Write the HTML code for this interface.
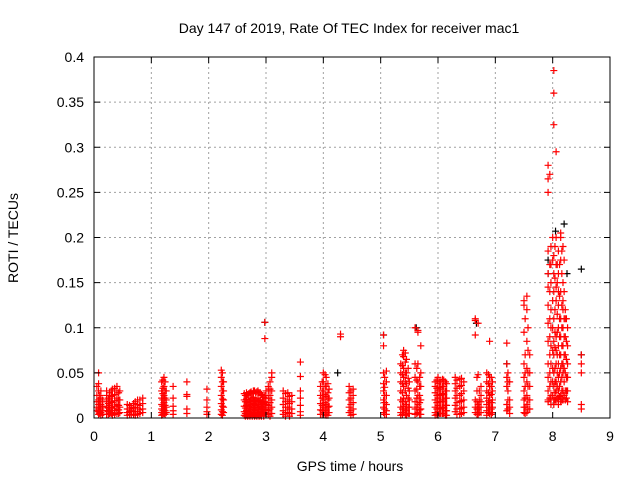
<!DOCTYPE html>
<html><head><meta charset="utf-8"><style>
body{margin:0;background:#fff;font-family:"Liberation Sans",sans-serif;}
svg text{font-family:"Liberation Sans",sans-serif;font-size:14px;fill:#000;}
</style></head><body>
<svg id="chart" width="640" height="480" xmlns="http://www.w3.org/2000/svg">
<text x="349" y="33" text-anchor="middle">Day 147 of 2019, Rate Of TEC Index for receiver mac1</text>
<text x="350" y="471" text-anchor="middle">GPS time / hours</text>
<text transform="translate(18,238) rotate(-90)" text-anchor="middle">ROTI / TECUs</text>
<g id="grid"></g><g id="pts"></g><g id="axes"></g>
</svg>
<script>
const xTicks=[0,1,2,3,4,5,6,7,8,9];
const yTicks=[0,0.05,0.1,0.15,0.2,0.25,0.3,0.35,0.4];
const yTickLabels=["0","0.05","0.1","0.15","0.2","0.25","0.3","0.35","0.4"];
// red series: column x (hours) and the y values (TECU) at that x
const redX=[0.08,0.12,0.22,0.27,0.32,0.4,0.45,0.58,0.65,0.72,0.8,0.85,1.18,1.22,1.26,1.38,1.62,1.97,2.22,2.26,2.62,2.66,2.7,2.74,2.78,2.82,2.86,2.9,2.94,2.98,3.04,3.1,3.3,3.38,3.45,3.6,3.95,4.0,4.05,4.1,4.3,4.45,4.52,5.05,5.1,5.35,5.4,5.45,5.5,5.6,5.65,5.7,5.95,6.0,6.05,6.1,6.15,6.3,6.38,6.45,6.65,6.7,6.75,6.85,6.9,6.95,7.2,7.25,7.5,7.55,7.6,7.92,7.97,8.02,8.06,8.1,8.14,8.18,8.22,8.26,8.5];
const redY=[
[0.05,0.038,0.03,0.02,0.015,0.01,0.007,0.004],
[0.03,0.022,0.015,0.01,0.006,0.003],
[0.03,0.025,0.018,0.012,0.008,0.004],
[0.028,0.02,0.014,0.009,0.005],
[0.032,0.025,0.017,0.011,0.006,0.003],
[0.035,0.03,0.022,0.015,0.01,0.005],
[0.03,0.02,0.012,0.006],
[0.015,0.01,0.006,0.003],
[0.012,0.008,0.004],
[0.018,0.012,0.007,0.003],
[0.02,0.014,0.009,0.005],
[0.022,0.016,0.01,0.006],
[0.04,0.03,0.022,0.015,0.01,0.006,0.003],
[0.045,0.035,0.025,0.017,0.01,0.005],
[0.03,0.02,0.012,0.006],
[0.035,0.022,0.013,0.008,0.004],
[0.04,0.026,0.024,0.01,0.005],
[0.032,0.02,0.012,0.007,0.004],
[0.053,0.045,0.035,0.025,0.016,0.009,0.004],
[0.04,0.03,0.02,0.012,0.006],
[0.027,0.02,0.013,0.007,0.003],
[0.028,0.021,0.014,0.008,0.003],
[0.027,0.02,0.013,0.007,0.003],
[0.029,0.022,0.015,0.009,0.004],
[0.03,0.023,0.016,0.009,0.004],
[0.028,0.02,0.014,0.008,0.003],
[0.03,0.022,0.015,0.009,0.004],
[0.028,0.02,0.013,0.007,0.003],
[0.025,0.018,0.012,0.006],
[0.106,0.088,0.025,0.018,0.012,0.006],
[0.035,0.03,0.022,0.014,0.008,0.004],
[0.05,0.045,0.03,0.02,0.012,0.005],
[0.03,0.022,0.015,0.008,0.004],
[0.028,0.02,0.012,0.006],
[0.025,0.018,0.01,0.005],
[0.062,0.046,0.03,0.022,0.014,0.007,0.003],
[0.035,0.025,0.016,0.009,0.004],
[0.05,0.04,0.03,0.02,0.012,0.006],
[0.045,0.035,0.024,0.015,0.008,0.003],
[0.032,0.022,0.013,0.006],
[0.093,0.09],
[0.035,0.028,0.02,0.012,0.006],
[0.032,0.025,0.017,0.01,0.004],
[0.092,0.08,0.05,0.038,0.03,0.02,0.012,0.006],
[0.052,0.04,0.025,0.015,0.008,0.004],
[0.06,0.05,0.04,0.03,0.02,0.012,0.006,0.003],
[0.075,0.068,0.055,0.045,0.035,0.022,0.013,0.006],
[0.065,0.05,0.038,0.025,0.015,0.008,0.003],
[0.04,0.03,0.02,0.012,0.005],
[0.1,0.06,0.045,0.03,0.018,0.01,0.004],
[0.097,0.095,0.06,0.04,0.025,0.015,0.006],
[0.08,0.05,0.035,0.02,0.01,0.004],
[0.04,0.035,0.028,0.02,0.012,0.006,0.003],
[0.045,0.038,0.03,0.022,0.014,0.007,0.003],
[0.04,0.032,0.025,0.018,0.01,0.005],
[0.042,0.035,0.026,0.018,0.011,0.005],
[0.038,0.03,0.022,0.014,0.008,0.003],
[0.045,0.038,0.03,0.022,0.014,0.007],
[0.043,0.035,0.025,0.018,0.01,0.004],
[0.04,0.03,0.02,0.012,0.006],
[0.11,0.108,0.092,0.02,0.012,0.006],
[0.105,0.048,0.015,0.01,0.004],
[0.035,0.025,0.018,0.012,0.006],
[0.05,0.04,0.03,0.022,0.015,0.008,0.003],
[0.085,0.045,0.035,0.025,0.017,0.01,0.005],
[0.04,0.03,0.02,0.012,0.006],
[0.083,0.06,0.045,0.035,0.015,0.008],
[0.04,0.02,0.012,0.005],
[0.13,0.125,0.095,0.06,0.045,0.03,0.02,0.012,0.006],
[0.135,0.12,0.085,0.055,0.04,0.025,0.015,0.006],
[0.07,0.05,0.035,0.02,0.01],
[0.28,0.265,0.25,0.185,0.16,0.145,0.125,0.105,0.085,0.06,0.045,0.03,0.02,0.018],
[0.19,0.17,0.15,0.12,0.1,0.08,0.06,0.04,0.025,0.02,0.015],
[0.385,0.36,0.325,0.18,0.16,0.14,0.11,0.085,0.07,0.05,0.035,0.02,0.015],
[0.295,0.2,0.17,0.145,0.13,0.09,0.075,0.06,0.04,0.03,0.02],
[0.185,0.16,0.14,0.125,0.1,0.08,0.06,0.045,0.03,0.02,0.015],
[0.205,0.2,0.175,0.14,0.11,0.09,0.07,0.055,0.04,0.025,0.018],
[0.19,0.15,0.13,0.12,0.1,0.08,0.06,0.05,0.03,0.02],
[0.12,0.11,0.09,0.07,0.05,0.03,0.02],
[0.1,0.08,0.06,0.045,0.03,0.018],
[0.07,0.06,0.05,0.015,0.01]
];
// extra red points filling the dense blocks
const redX2=[0.05,0.1,0.15,0.25,0.3,0.36,0.43,0.62,0.69,0.76,1.2,1.24,2.24,2.64,2.68,2.72,2.76,2.8,2.84,2.88,2.92,2.96,3.0,3.07,3.34,3.41,3.98,4.03,4.08,4.48,5.07,5.38,5.43,5.48,5.63,5.68,5.98,6.03,6.08,6.13,6.33,6.41,6.68,6.72,6.88,6.93,7.22,7.52,7.57,7.95,8.0,8.04,8.08,8.12,8.16,8.2,8.24];
const redY2=[
[0.035,0.025,0.018,0.012,0.008],[0.025,0.018,0.012,0.008,0.005],[0.02,0.013,0.008,0.004],
[0.022,0.016,0.011,0.007,0.004],[0.03,0.024,0.018,0.012,0.008,0.005],[0.033,0.026,0.019,0.013,0.008,0.004],[0.028,0.02,0.014,0.009,0.005],
[0.014,0.01,0.007,0.004],[0.016,0.011,0.007,0.004],[0.02,0.015,0.011,0.007,0.004],
[0.042,0.033,0.027,0.02,0.013,0.008,0.004],[0.04,0.03,0.022,0.014,0.008,0.004],[0.05,0.04,0.03,0.021,0.013,0.007,0.003],
[0.025,0.018,0.011,0.005,0.002],[0.026,0.017,0.011,0.005,0.002],[0.028,0.018,0.011,0.005,0.002],[0.027,0.019,0.012,0.006,0.002],[0.03,0.02,0.012,0.006,0.002],[0.029,0.018,0.011,0.006,0.002],[0.028,0.019,0.012,0.006,0.002],[0.026,0.017,0.01,0.005,0.002],[0.023,0.016,0.01,0.005,0.002],
[0.03,0.022,0.015,0.009,0.004],[0.04,0.032,0.025,0.017,0.01,0.005,0.002],
[0.027,0.018,0.012,0.006,0.002],[0.024,0.016,0.01,0.005,0.002],
[0.04,0.03,0.022,0.014,0.008,0.004],[0.048,0.035,0.026,0.017,0.01,0.004],[0.038,0.028,0.02,0.012,0.006,0.003],
[0.03,0.022,0.015,0.008,0.003],
[0.045,0.034,0.025,0.017,0.01,0.004],
[0.07,0.058,0.048,0.038,0.028,0.018,0.01,0.004],[0.072,0.062,0.05,0.04,0.03,0.018,0.01,0.004],[0.055,0.044,0.033,0.022,0.012,0.005],
[0.055,0.042,0.032,0.022,0.012,0.005],[0.045,0.035,0.025,0.017,0.009,0.004],
[0.042,0.033,0.025,0.017,0.01,0.004],[0.04,0.034,0.026,0.018,0.011,0.005],[0.043,0.035,0.027,0.02,0.012,0.005],[0.04,0.03,0.022,0.014,0.008,0.003],
[0.042,0.033,0.025,0.017,0.01,0.004],[0.044,0.036,0.027,0.019,0.011,0.005],
[0.045,0.03,0.018,0.01,0.004],[0.03,0.02,0.012,0.006],
[0.048,0.038,0.028,0.019,0.012,0.006],[0.045,0.035,0.026,0.017,0.01,0.004],
[0.05,0.04,0.03,0.02,0.01],
[0.11,0.07,0.05,0.035,0.022,0.012,0.005],[0.1,0.075,0.05,0.035,0.02,0.01],
[0.27,0.17,0.14,0.11,0.09,0.07,0.05,0.035,0.022],[0.2,0.175,0.13,0.1,0.075,0.055,0.04,0.025],[0.19,0.155,0.12,0.095,0.078,0.055,0.04,0.028,0.02],[0.17,0.15,0.115,0.095,0.07,0.05,0.035,0.022],[0.17,0.135,0.11,0.09,0.07,0.05,0.035,0.024],[0.185,0.16,0.125,0.1,0.08,0.06,0.045,0.03,0.02],[0.175,0.14,0.11,0.09,0.07,0.055,0.04,0.025],[0.11,0.085,0.065,0.045,0.03,0.022]
];
// black series (partially hidden behind red)
const blackX=[2.98,4.25,5.05,5.62,6.67,7.2,7.92,8.05,8.2,8.25,8.5];
const blackY=[[0.106],[0.05],[0.092],[0.1],[0.105],[0.06],[0.175,0.16],[0.207],[0.215],[0.16],[0.165,0.07]];

const L=94,R=610,T=57,B=418;
const xs=v=>L+(v-0)/9*(R-L);
const ys=v=>B-v/0.4*(B-T);
const NS="http://www.w3.org/2000/svg";
const grid=document.getElementById('grid'),axes=document.getElementById('axes'),pts=document.getElementById('pts');
function mk(tag,attrs,parent){const e=document.createElementNS(NS,tag);for(const k in attrs)e.setAttribute(k,attrs[k]);parent.appendChild(e);return e;}
xTicks.forEach((t,i)=>{
  const x=xs(t);
  if(i>0&&i<xTicks.length-1){const g=mk('line',{x1:x,x2:x,y1:T,y2:B,stroke:'#a0a0a0','stroke-dasharray':'2,3'},grid);
  
  }
  mk('line',{x1:x,x2:x,y1:B,y2:B-6,stroke:'#000'},axes);
  mk('line',{x1:x,x2:x,y1:T,y2:T+6,stroke:'#000'},axes);
  const tx=mk('text',{x:x,y:B+23,'text-anchor':'middle'},axes);tx.textContent=t;
  
  
});
yTicks.forEach((t,i)=>{
  const y=ys(t);
  if(i>0&&i<yTicks.length-1){const g=mk('line',{x1:L,x2:R,y1:y,y2:y,stroke:'#a0a0a0','stroke-dasharray':'2,3'},grid);
  
  }
  mk('line',{x1:L,x2:L+6,y1:y,y2:y,stroke:'#000'},axes);
  mk('line',{x1:R,x2:R-6,y1:y,y2:y,stroke:'#000'},axes);
  const tx=mk('text',{x:L-10,y:y+5,'text-anchor':'end'},axes);tx.textContent=yTickLabels[i];
  
  
});
const fr=mk('rect',{x:L,y:T,width:R-L,height:B-T,fill:'none',stroke:'#000'},axes);


function plus(x,y,c,name){
  const p=mk('path',{d:`M${x-3.5},${y}h7M${x},${y-3.5}v7`,stroke:c,'stroke-width':1.2,fill:'none'},pts);
  
  
}
blackX.forEach((xv,i)=>blackY[i].forEach(yv=>plus(xs(xv),ys(yv),'#000','roti-point-black')));
redX.forEach((xv,i)=>redY[i].forEach(yv=>plus(xs(xv),ys(yv),'#ff0000','roti-point-red')));
redX2.forEach((xv,i)=>redY2[i].forEach(yv=>plus(xs(xv),ys(yv),'#ff0000','roti-point-red')));
</script>
</body></html>
